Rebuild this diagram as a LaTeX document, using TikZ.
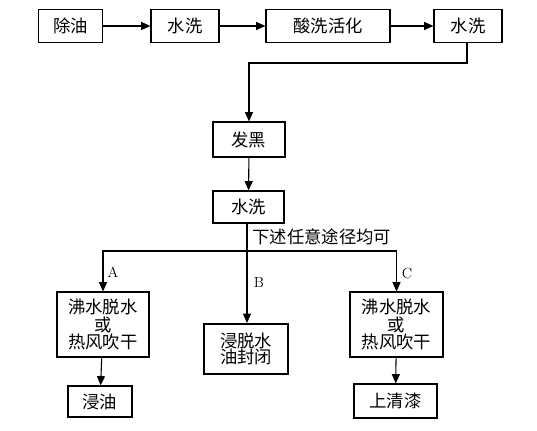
\documentclass[tikz,border=0pt]{standalone}
\usepackage{fontspec}
\newfontfamily\cjk{Noto Sans CJK SC}
\usetikzlibrary{arrows.meta}

\begin{document}
\begin{tikzpicture}[x=0.75pt,y=-0.75pt,line width=0.8pt,
  stepbox/.style n args={2}{draw,rectangle,inner sep=0pt,minimum width=#1*0.75pt,minimum height=#2*0.75pt,font=\cjk\fontsize{13}{15.5}\selectfont,align=center},
  arr/.style={-{Triangle[length=7pt,width=6pt]}},
  lbl/.style={font=\fontsize{11}{12}\selectfont,inner sep=0pt}]
\useasboundingbox (0,0) rectangle (537,431);
% top row
\foreach \n/\x/\w/\t in {chuyou/70.6/64/除油,shuixiA/185/68/水洗,suanxi/328/124/酸洗活化,shuixiB/468/68/水洗} {
   \node[stepbox={\w}{33}] (\n) at (\x,26) {\t};
}
\draw[arr] (chuyou) -- (shuixiA);
\draw[arr] (shuixiA) -- (suanxi);
\draw[arr] (suanxi) -- (shuixiB);
\node[stepbox={72}{35}] (fahei) at (249,139.5) {发黑};
\node[stepbox={71}{32}] (shuixiC) at (248.5,207) {水洗};
\coordinate (turn) at (467,63);
\draw[arr] (shuixiB.south -| turn) -- (turn) -| (fahei.north);
\draw[arr] (fahei) -- (shuixiC);
% three routes
\node[stepbox={92}{65},font=\cjk\fontsize{13}{13.2}\selectfont] (gananA) at (103,324.5) {沸水脱水\\或\\热风吹干};
\node[stepbox={84}{50},line width=1.4pt,font=\cjk\fontsize{13}{12.5}\selectfont] (jinfeng) at (246,349) {浸脱水\\油封闭};
\node[stepbox={93}{65},font=\cjk\fontsize{13}{13.2}\selectfont] (gananC) at (396.5,324.5) {沸水脱水\\或\\热风吹干};
\node[stepbox={64}{31}] (jinyou) at (100,401.5) {浸油};
\node[stepbox={83}{34}] (qingqi) at (395.5,401) {上清漆};
\coordinate (fork) at (247,251);
\draw (shuixiC.south -| fork) -- (fork);
\draw[arr] (fork) -| (gananA.north);
\draw[arr] (fork) -| (gananC.north);
\draw[arr] (fork) -- (jinfeng.north -| fork);
\draw[arr] (gananA) -- (jinyou);
\draw[arr] (gananC) -- (qingqi);
\node[anchor=west,inner sep=0pt,font=\cjk\fontsize{13}{15}\selectfont] (renyi) at (252,237) {下述任意途径均可};
\node[lbl] (luA) at (113,272) {A};
\node[lbl] (luB) at (259,282) {B};
\node[lbl] (luC) at (407,273) {C};
\end{tikzpicture}
\end{document}
